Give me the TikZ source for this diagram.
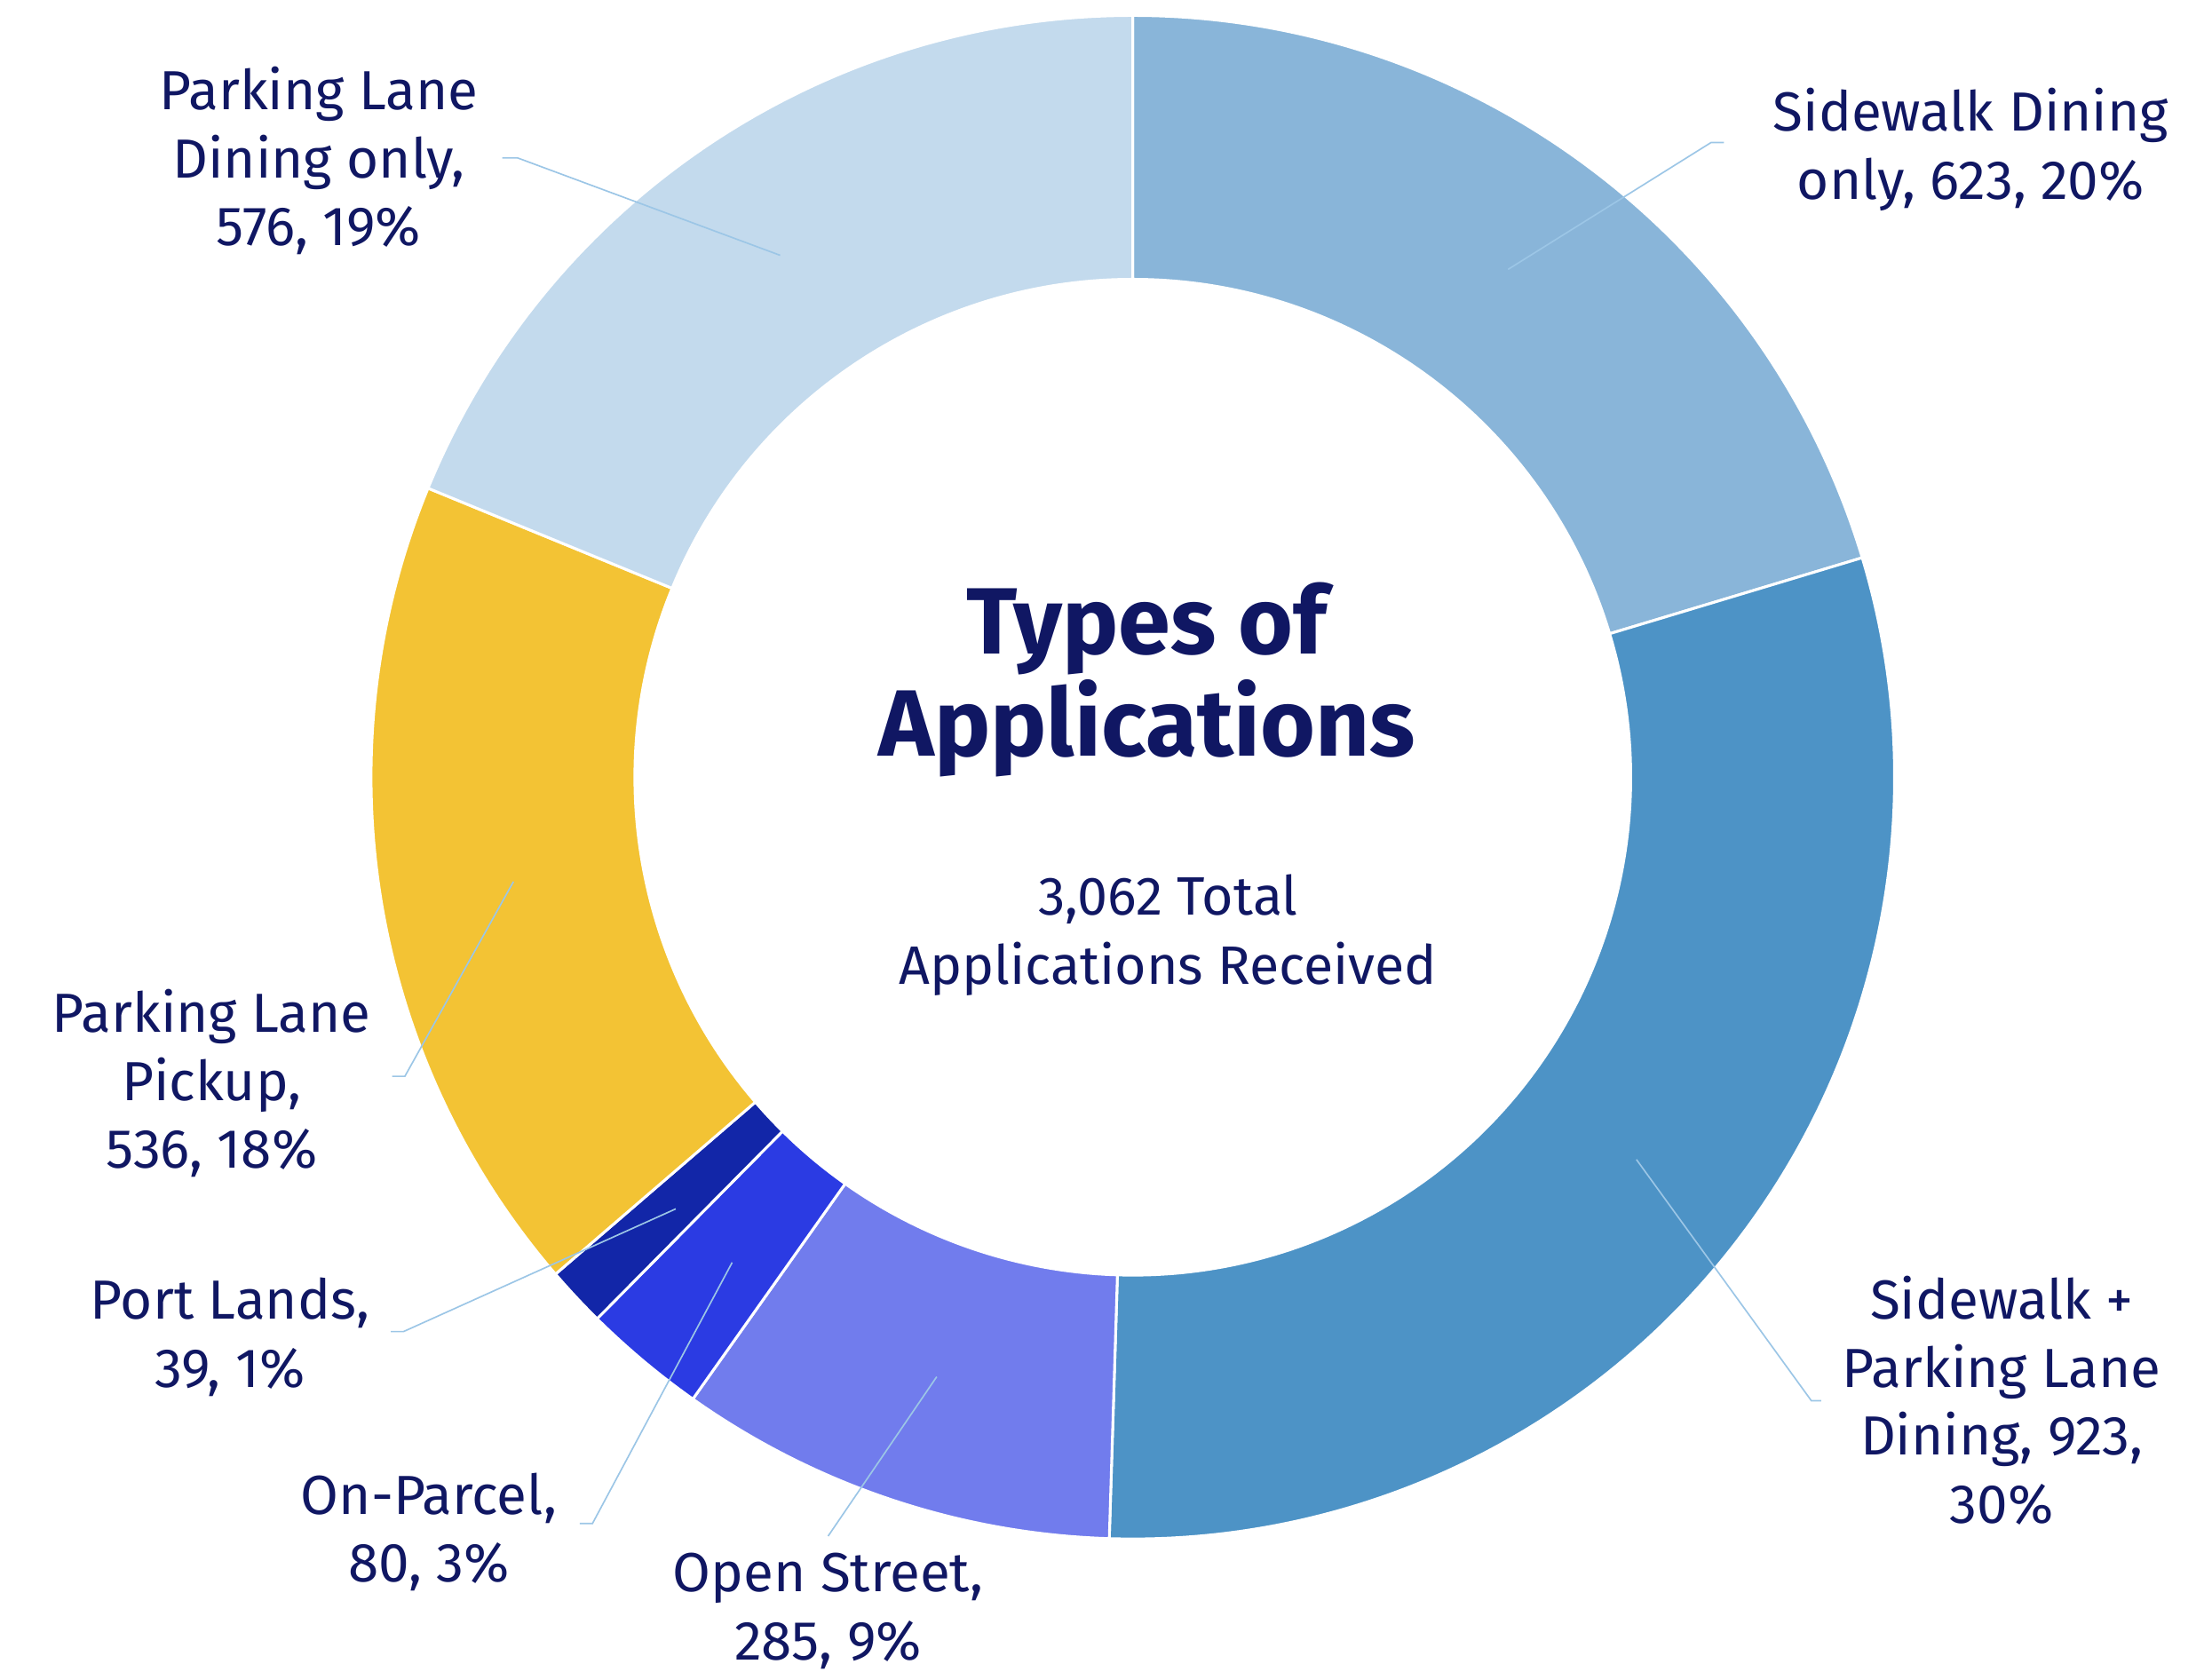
\documentclass[tikz,border=0pt]{standalone}
\usepackage{fontspec}
\setmainfont{Fira Sans}
\usepackage{tikz}
\usetikzlibrary{positioning}
\usepackage{xcolor}

\definecolor{navy}{HTML}{101763}
\definecolor{leadc}{HTML}{9CC6E6}
\definecolor{sdine}{HTML}{89B5D9}
\definecolor{swpl}{HTML}{4D93C6}
\definecolor{openst}{HTML}{717CED}
\definecolor{onpar}{HTML}{2B3BE3}
\definecolor{portl}{HTML}{1226A8}
\definecolor{pickup}{HTML}{F3C334}
\definecolor{pldine}{HTML}{C3DAED}

\begin{document}
\begin{tikzpicture}[x=0.01cm,y=0.01cm,
    slice/.style={draw=white,line width=0.55pt,line join=round},
    lbl/.style={text=navy,align=center,inner sep=0pt,font=\fontsize{11.1}{13.7}\selectfont},
    lead/.style={draw=leadc,line width=0.3pt}]
    \useasboundingbox (0,0) rectangle (1568,1185);

    % donut
    \begin{scope}[shift={(803,634)}]
    \foreach \angA/\angB/\fillc in {90/16.75/sdine, 16.75/-91.77/swpl, -91.77/-125.28/openst,
        -125.28/-134.69/onpar, -134.69/-139.28/portl, -139.28/-202.30/pickup, -202.30/-270/pldine}
        \filldraw[slice,fill=\fillc] (\angA:540) arc[start angle=\angA,end angle=\angB,radius=540]
            -- (\angB:353) arc[start angle=\angB,end angle=\angA,radius=353] -- cycle;
    \end{scope}

    % centre text
    \node[text=navy,align=center,inner sep=0pt,font=\fontsize{19}{19.4}\selectfont\bfseries] (title) at (813,703) {Types of\\Applications};
    \node[lbl,font=\fontsize{10.9}{13.9}\selectfont] (total) at (828,522) {3,062 Total\\Applications Received};

    % labels
    \node[lbl] (sdl) at (1397,1079) {Sidewalk Dining\\only, 623, 20\%};
    \node[lbl] (swl) at (1419,192) {Sidewalk +\\Parking Lane\\Dining, 923,\\30\%};
    \node[lbl] (osl) at (587,43) {Open Street,\\285, 9\%};
    \node[lbl] (opl) at (304,99) {On-Parcel,\\80, 3\%};
    \node[lbl] (ptl) at (163,237) {Port Lands,\\39, 1\%};
    \node[lbl] (pul) at (150,417) {Parking Lane\\Pickup,\\536, 18\%};
    \node[lbl] (pdl) at (226,1071) {Parking Lane\\Dining only,\\576, 19\%};

    % leader lines
    \coordinate (sd-in) at (1069,994);  \coordinate (sd-el) at (1213,1084); \coordinate (sd-end) at (1222,1084);
    \coordinate (sw-in) at (1160,363);  \coordinate (sw-el) at (1284,192);  \coordinate (sw-end) at (1291,192);
    \coordinate (os-in) at (664,209);   \coordinate (os-end) at (587,96);
    \coordinate (op-in) at (519,290);   \coordinate (op-el) at (420,105);   \coordinate (op-end) at (411,105);
    \coordinate (pt-in) at (479,328);   \coordinate (pt-el) at (286,241);   \coordinate (pt-end) at (277,241);
    \coordinate (pu-in) at (364,560);   \coordinate (pu-el) at (287,422);   \coordinate (pu-end) at (278,422);
    \coordinate (pd-in) at (553,1004);  \coordinate (pd-el) at (367,1073);  \coordinate (pd-end) at (356,1073);

    \draw[lead] (sd-in) -- (sd-el) -- (sd-end);
    \draw[lead] (sw-in) -- (sw-el) -- (sw-end);
    \draw[lead] (os-in) -- (os-end);
    \draw[lead] (op-in) -- (op-el) -- (op-end);
    \draw[lead] (pt-in) -- (pt-el) -- (pt-end);
    \draw[lead] (pu-in) -- (pu-el) -- (pu-end);
    \draw[lead] (pd-in) -- (pd-el) -- (pd-end);
\end{tikzpicture}
\end{document}
